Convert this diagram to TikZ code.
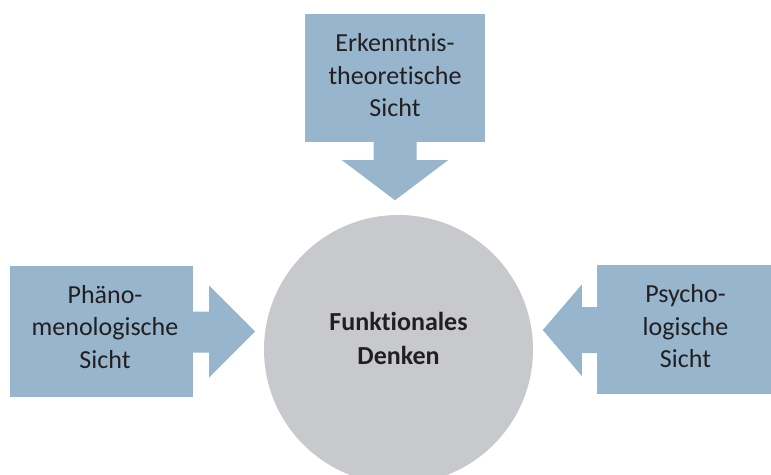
\documentclass[tikz,border=0pt]{standalone}
\usepackage{fontspec}
\setmainfont{Carlito}[Ligatures={NoCommon,NoContextual},Contextuals=NoAlternate]
\usetikzlibrary{calc}
\definecolor{boxblue}{RGB}{151,181,204}
\definecolor{circgray}{RGB}{200,201,205}
\definecolor{ink}{RGB}{35,31,32}
\tikzset{
  view/.style={fill=boxblue, draw=none, inner sep=0pt},
  viewtext/.style={inner sep=0pt, align=center, text=ink,
    font=\fontsize{26}{32.5}\selectfont},
  pointer/.style={fill=boxblue, draw=none},
  core/.style={circle, fill=circgray, draw=none, inner sep=0pt},
  coretext/.style={inner sep=0pt, align=center, text=ink,
    font=\fontsize{26}{33.5}\selectfont\bfseries}
}
\begin{document}
\begin{tikzpicture}[x=1pt,y=-1pt]
\useasboundingbox (0,0) rectangle (771,474);
\clip (0,0) rectangle (771,474);
\fill[white] (0,0) rectangle (771,474);

% central concept
\node[core, minimum size=269] (center) at (398.5,349.5) {};
\node[coretext] (centerlbl) at ($(center)+(0,-11)$) {Funktionales\\Denken};

% the three viewpoints
\node[view, minimum width=180, minimum height=128] (top) at (395,78) {};
\node[viewtext] (toplbl) at ($(top)+(0,-2.5)$) {Erkenntnis-\\theoretische\\Sicht};
\node[view, minimum width=183, minimum height=131] (left) at (101.5,331.5) {};
\node[viewtext] (leftlbl) at ($(left)+(3.5,-4.5)$) {Phäno-\\menologische\\Sicht};
\node[view, minimum width=174, minimum height=129] (right) at (684,329.5) {};
\node[viewtext] (rightlbl) at ($(right)+(1.5,-3)$) {Psycho-\\logische\\Sicht};

% block arrows pointing at the centre
\begin{scope}[shift={(top.south)}]
  \fill[pointer] (-21.5,-1) -- (21.5,-1) -- (21.5,18) -- (53,18) -- (0,58) -- (-53,18) -- (-21.5,18) -- cycle;
\end{scope}
\begin{scope}[shift={(left.east)}]
  \fill[pointer] (-1,-20) -- (16,-20) -- (16,-46) -- (62,0) -- (16,46) -- (16,21) -- (-1,21) -- cycle;
\end{scope}
\begin{scope}[shift={(right.west)}]
  \fill[pointer] (1,-22.5) -- (-15,-22.5) -- (-15,-45) -- (-54,0.5) -- (-15,46.5) -- (-15,23.5) -- (1,23.5) -- cycle;
\end{scope}
\end{tikzpicture}
\end{document}
